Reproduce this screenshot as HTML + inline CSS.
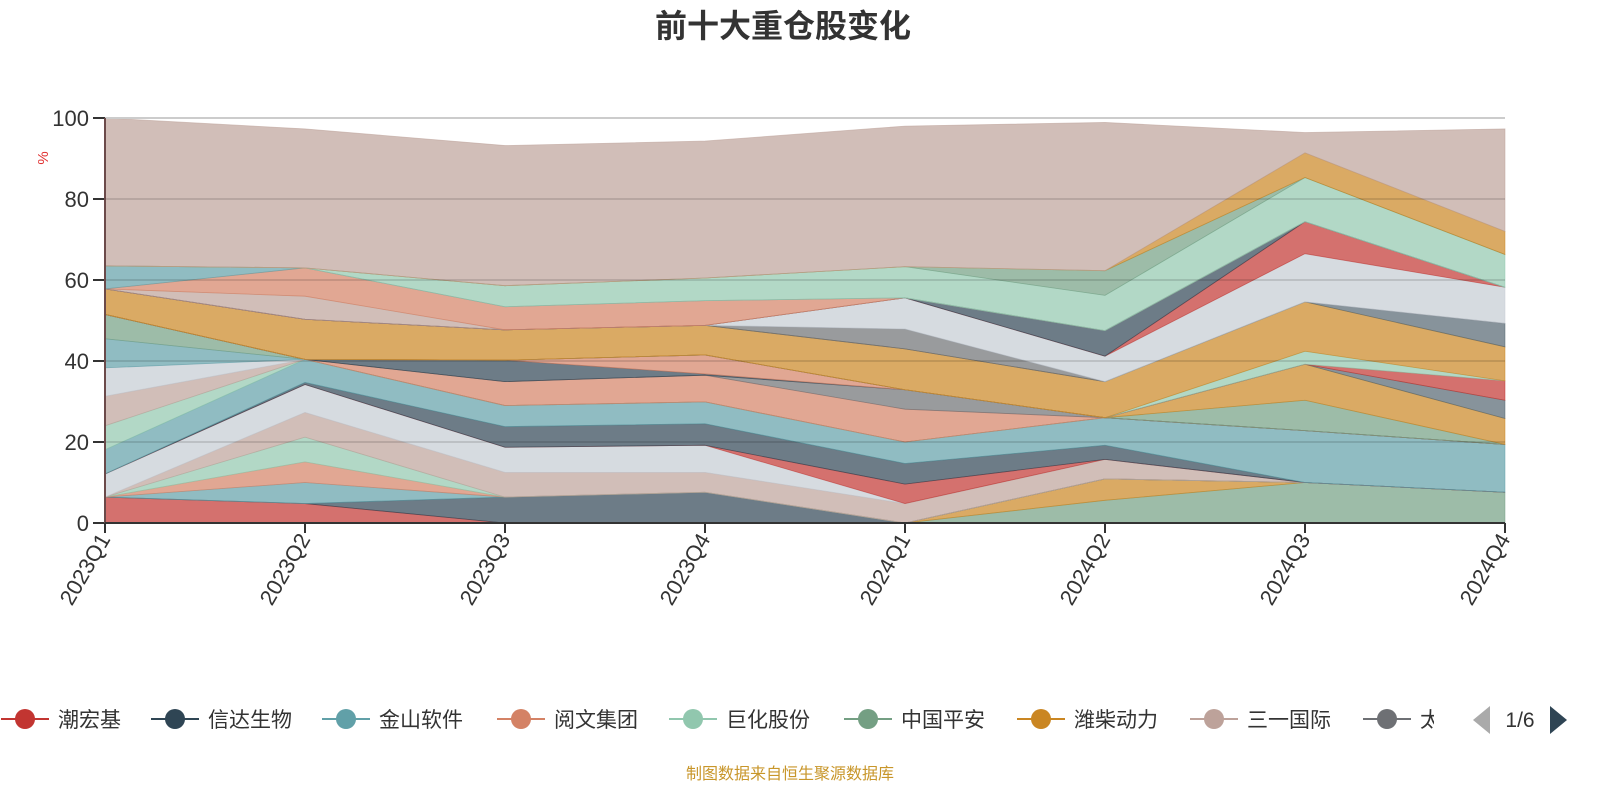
<!DOCTYPE html>
<html><head><meta charset="utf-8"><style>
body{margin:0;width:1600px;height:800px;background:#fff;overflow:hidden;font-family:"Liberation Sans","Noto Sans CJK SC",sans-serif;}
svg text{font-family:"Liberation Sans","Noto Sans CJK SC",sans-serif;}
</style></head><body>
<svg id="chart" width="1600" height="800" viewBox="0 0 1600 800">
<text x="783" y="37" text-anchor="middle" font-size="32" font-weight="bold" fill="#333">前十大重仓股变化</text>
<text x="48" y="158" font-size="15" fill="#e03030" transform="rotate(-90 48 158)" text-anchor="middle">%</text>
<g id="areas"></g>
<g id="grid"></g>
<g id="axes"></g>
<g id="legend"></g>
<text x="790" y="779" text-anchor="middle" font-size="16" fill="#c8962a">制图数据来自恒生聚源数据库</text>
</svg>
<script>
const categories=["2023Q1","2023Q2","2023Q3","2023Q4","2024Q1","2024Q2","2024Q3","2024Q4"];
const yTicks=[0,20,40,60,80,100];
const legendNames=["潮宏基","信达生物","金山软件","阅文集团","巨化股份","中国平安","潍柴动力","三一国际","太平洋"];
const palette=['#c23531','#2f4554','#61a0a8','#d48265','#91c7ae','#749f83','#ca8622','#bda29a','#6e7074','#546570','#c4ccd3'];
const s01=[0,0,0,0,0,5.6,10,7.6];
const s02=[0,0,0,0,0,5.3,0,0];
const s03=[6.4,4.8,0,0,0,0,0,0];
const s04=[0,0,6.4,7.6,0,0,0,0];
const s05=[0,5.2,0,0,0,0,0,0];
const s06=[0,5.1,0,0,0,0,0,0];
const s07=[0,6.1,0,0,0,0,0,0];
const s08=[0,6.1,6.1,4.9,4.8,4.8,0,0];
const s09=[5.7,6.9,6.2,6.7,0,0,0,0];
const s10=[0,0,0,0,4.8,0,0,0];
const s11=[0,0.5,5.1,5.3,5.1,3.5,0,0];
const s12=[6,5.7,5.2,5.4,5.3,6.8,12.8,11.8];
const s13=[5.9,0,0,0,0,0,0,0];
const s14=[7.3,0,0,0,0,0,0,0];
const s15=[7,0,0,0,0,0,0,0];
const s16=[7.2,0,0,0,0,0,0,0];
const s17=[6,0,0,0,0,0,0,0];
const s18=[0,0,5.9,6.6,8.1,0,0,0];
const s19=[0,0,0,0,4.8,0,0,0];
const s20=[0,0,5.3,0.3,0,0,0,0];
const s21=[0,0,0,4.7,0,0,0,0];
const s22=[0,0,0,0,0,0,7.5,0];
const s23=[0,0,0,0,0,0,8.9,6.4];
const s24=[0,0,0,0,0,0,0,4.5];
const s25=[0,0,0,0,0,0,0,4.8];
const s26=[0,0,0,0,0,0,3.2,0];
const s27=[6.3,9.9,7.5,7.3,10.1,8.9,12.2,8.4];
const s28=[0,0,0,0,0,0,0,5.8];
const s29=[0,0,0,0,4.9,0,0,0];
const s30=[0,0,0,0,7.7,6.3,11.9,8.9];
const s31=[0,0,0,0,0,0,7.9,0];
const s32=[0,0,0,0,0,6.3,0,0];
const s33=[0,5.7,0,0,0,0,0,0];
const s34=[0,7,5.7,6.1,0,0,0,0];
const s35=[5.7,0,0,0,0,0,0,0];
const s36=[0,0,5.2,5.6,7.7,8.7,10.9,8.1];
const s37=[0,0,0,0,0,6.1,0,0];
const s38=[0,0,0,0,0,0,6.1,5.7];
const s39=[36.5,34.3,34.6,33.8,34.7,36.6,5,25.3];
const seriesList=[
["中国平安",5,s01],["潍柴动力",6,s02],["潮宏基",0,s03],["信达生物",1,s04],["金山软件",2,s05],["阅文集团",3,s06],["巨化股份",4,s07],["三一国际",7,s08],["东方电缆",10,s09],["潮宏基b",0,s10],["信达生物b",1,s11],["金山软件b",2,s12],["巨化股份b",4,s13],["三一国际b",7,s14],["东方电缆b",10,s15],["金山软件c",2,s16],["中国平安b",5,s17],["阅文集团b",3,s18],["太平洋",8,s19],["信达生物c",1,s20],["阅文集团c",3,s21],["中国平安c",5,s22],["潍柴动力b",6,s23],["万华化学",9,s24],["潮宏基c",0,s25],["巨化股份c",4,s26],["潍柴动力c",6,s27],["万华化学b",9,s28],["太平洋b",8,s29],["东方电缆c",10,s30],["潮宏基d",0,s31],["信达生物d",1,s32],["三一国际c",7,s33],["阅文集团d",3,s34],["金山软件d",2,s35],["巨化股份d",4,s36],["中国平安d",5,s37],["潍柴动力d",6,s38],["三一国际d",7,s39]];
const X0=105,X1=1505,Y0=523,Y100=118;
function xs(i){return X0+(X1-X0)*i/(categories.length-1);}
function ys(v){return Y0-(Y0-Y100)*v/100;}
const NS="http://www.w3.org/2000/svg";
function mk(t,a){const e=document.createElementNS(NS,t);for(const k in a)e.setAttribute(k,a[k]);return e;}
const areas=document.getElementById('areas');
let base=categories.map(()=>0);
seriesList.forEach(function(s){
  const vals=s[2];const top=base.map((b,i)=>b+vals[i]);
  let pts=[];
  for(let i=0;i<categories.length;i++)pts.push(xs(i)+","+ys(top[i]));
  for(let i=categories.length-1;i>=0;i--)pts.push(xs(i)+","+ys(base[i]));
  const p=mk('polygon',{points:pts.join(" "),fill:palette[s[1]],'fill-opacity':0.7,stroke:palette[s[1]],'stroke-width':0.8,'stroke-opacity':0.6});
  
  
  areas.appendChild(p);
  base=top;
});
const grid=document.getElementById('grid'),axes=document.getElementById('axes');
yTicks.forEach(function(t){
  const l=mk('line',{x1:X0,x2:X1,y1:ys(t),y2:ys(t),stroke:t==100?'#ccc':'rgba(0,0,0,0.12)','stroke-width':2});
  
  
  if(t>0)grid.appendChild(l);
  const tk=mk('line',{x1:X0-12,x2:X0,y1:ys(t),y2:ys(t),stroke:'#333','stroke-width':2});
  
  
  axes.appendChild(tk);
  const tx=mk('text',{x:X0-16,y:ys(t)+8,'text-anchor':'end','font-size':22,fill:'#333'});
  tx.textContent=t;
  
  
  axes.appendChild(tx);
});
const ya=mk('line',{x1:X0,x2:X0,y1:Y100,y2:Y0,stroke:'#6b4a4a','stroke-width':2});


axes.appendChild(ya);
const xa=mk('line',{x1:X0,x2:X1,y1:Y0,y2:Y0,stroke:'#333','stroke-width':2});


axes.appendChild(xa);
categories.forEach(function(c,i){
  const tk=mk('line',{x1:xs(i),x2:xs(i),y1:Y0,y2:Y0+10,stroke:'#333','stroke-width':2});
  
  
  axes.appendChild(tk);
  const tx=mk('text',{x:xs(i)+6,y:Y0+16,'text-anchor':'end','font-size':22,fill:'#333',transform:'rotate(-60 '+(xs(i)+6)+' '+(Y0+16)+')'});
  tx.textContent=c;
  
  
  axes.appendChild(tx);
});
const legend=document.getElementById('legend');
const legX=[25,175,346,521,693,868,1041,1214,1387];
const clip=mk('clipPath',{id:'legclip'});clip.appendChild(mk('rect',{x:0,y:690,width:1434,height:60}));legend.appendChild(clip);
const lg=mk('g',{'clip-path':'url(#legclip)'});legend.appendChild(lg);
legendNames.forEach(function(n,i){
  const g=mk('g',{});
  
  
  const c=palette[i];
  g.appendChild(mk('line',{x1:legX[i]-24,x2:legX[i]+24,y1:719,y2:719,stroke:c,'stroke-width':2}));
  g.appendChild(mk('circle',{cx:legX[i],cy:719,r:10,fill:c}));
  const t=mk('text',{x:legX[i]+33,y:727,'font-size':21,fill:'#333'});t.textContent=n;g.appendChild(t);
  lg.appendChild(g);
});
const prev=mk('polygon',{points:'1490,706 1490,734 1473,720',fill:'#aaa'});


legend.appendChild(prev);
const pg=mk('text',{x:1520,y:727,'text-anchor':'middle','font-size':21,fill:'#333'});pg.textContent='1/6';


legend.appendChild(pg);
const next=mk('polygon',{points:'1550,706 1550,734 1567,720',fill:'#2f4554'});


legend.appendChild(next);
</script>
</body></html>
